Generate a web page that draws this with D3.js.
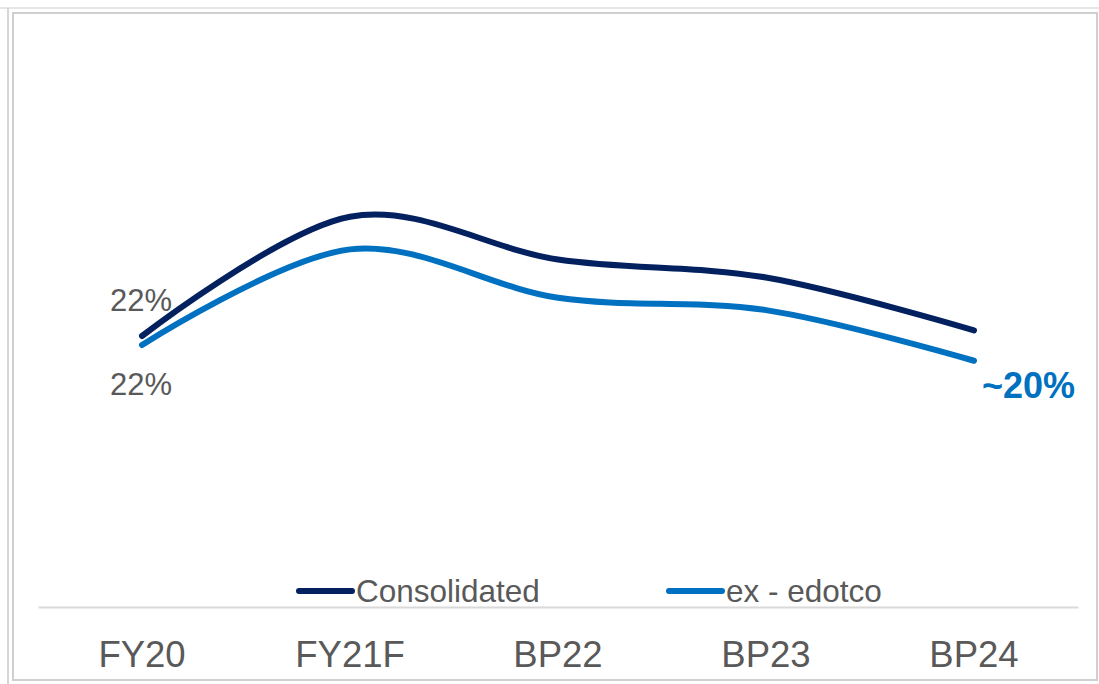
<!DOCTYPE html>
<html>
<head>
<meta charset="utf-8">
<script src="https://cdn.jsdelivr.net/npm/d3@7"></script>
<style>
  html, body { margin: 0; padding: 0; background: #fff; }
  svg { display: block; font-family: "Liberation Sans", Arial, sans-serif; }
</style>
</head>
<body>
<svg id="chart" width="1099" height="684"></svg>
<script>
// Categories and series (percent)
const categories = ["FY20", "FY21F", "BP22", "BP23", "BP24"];
const consolidated = [22.4, 33.0, 29.2, 27.6, 22.9];
const exEdotco = [21.6, 30.1, 25.8, 24.7, 20.2];
const seriesNames = ["Consolidated", "ex - edotco"];
const seriesColors = ["#03215f", "#0070c0"];

const svg = d3.select("#chart");
const W = 1099, H = 684;

// Frame
svg.append("line").attr("x1", 0).attr("x2", W).attr("y1", 8).attr("y2", 8)
  .attr("stroke", "#e6e6e6").attr("stroke-width", 2);
svg.append("line").attr("x1", 8).attr("x2", 8).attr("y1", 8).attr("y2", 684)
  .attr("stroke", "#d6d6d6").attr("stroke-width", 2);
svg.append("rect").attr("x", 13).attr("y", 13).attr("width", 1084).attr("height", 667)
  .attr("fill", "none").attr("stroke", "#cfcfcf").attr("stroke-width", 2);

const x = d3.scaleBand().domain(categories).range([38, 1078]);
const y = d3.scaleLinear().domain([0, 50]).range([588, 588 - 50 * 11.25]);
const cx = c => x(c) + x.bandwidth() / 2;

// Category axis
const axisY = 607;
const xAxis = d3.axisBottom(x).tickSize(0).tickPadding(0);
const ax = svg.append("g").attr("transform", `translate(0,${axisY})`).call(xAxis);
ax.select(".domain").attr("stroke", "#d9d9d9").attr("stroke-width", 2);
ax.selectAll(".tick text")
  .attr("dy", null).attr("y", 60)
  .attr("font-size", 36.5).attr("fill", "#595959")
  .attr("font-family", "'Liberation Sans', Arial, sans-serif");

// Smooth lines
const line = d3.line()
  .x((d, i) => cx(categories[i]))
  .y(d => y(d))
  .curve(d3.curveCardinal.tension(0));

[consolidated, exEdotco].forEach((vals, k) => {
  svg.append("path").datum(vals)
    .attr("d", line)
    .attr("fill", "none")
    .attr("stroke", seriesColors[k])
    .attr("stroke-width", 6)
    .attr("stroke-linecap", "round");
});

// Value labels
svg.append("text").attr("x", cx("FY20") - 1).attr("y", y(consolidated[0]) - 25)
  .attr("text-anchor", "middle").attr("font-size", 31).attr("fill", "#595959")
  .text(Math.round(consolidated[0]) + "%");
svg.append("text").attr("x", cx("FY20") - 1).attr("y", y(exEdotco[0]) + 50)
  .attr("text-anchor", "middle").attr("font-size", 31).attr("fill", "#595959")
  .text(Math.round(exEdotco[0]) + "%");
svg.append("text").attr("x", cx("BP24") + 8).attr("y", y(exEdotco[4]) + 37)
  .attr("font-size", 36).attr("font-weight", "bold").attr("fill", "#0070c0")
  .text("~" + Math.round(exEdotco[4]) + "%");

// Legend
const legendItems = [{ x: 297 }, { x: 667 }];
legendItems.forEach((it, k) => {
  const g = svg.append("g").attr("transform", `translate(${it.x},591)`);
  g.append("line").attr("x1", 2).attr("x2", 55).attr("y1", 0).attr("y2", 0)
    .attr("stroke", seriesColors[k]).attr("stroke-width", 6).attr("stroke-linecap", "round");
  g.append("text").attr("x", 59).attr("y", 11)
    .attr("font-size", 31.5).attr("fill", "#595959").text(seriesNames[k]);
});
</script>
</body>
</html>
